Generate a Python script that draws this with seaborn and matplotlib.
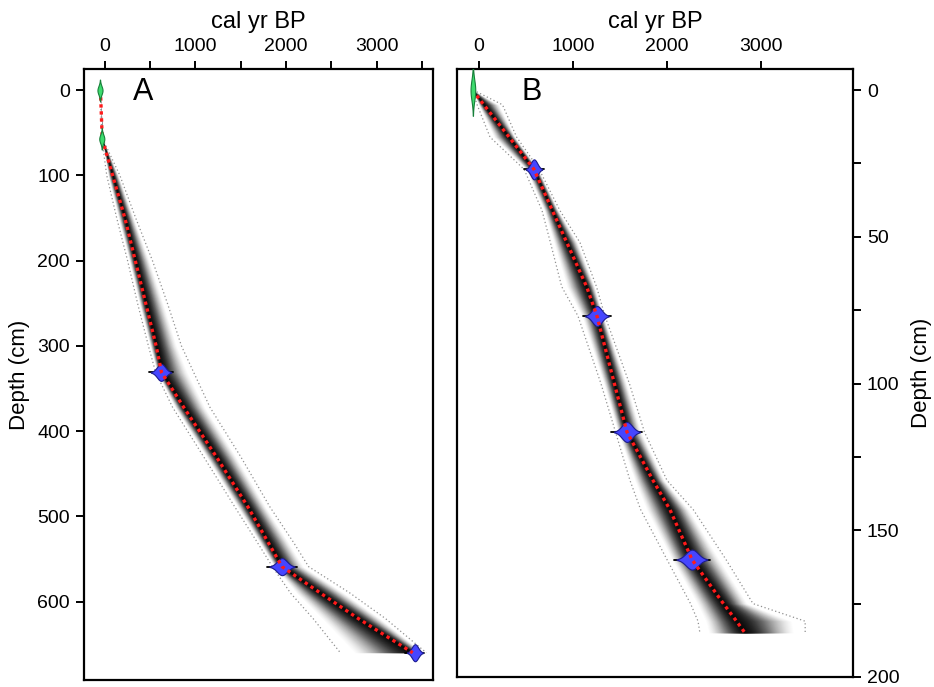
import numpy as np
import pandas as pd
import matplotlib
matplotlib.use("Agg")
import matplotlib.pyplot as plt
import seaborn as sns

# ---------------- data ----------------
# Panel A : age-depth model
depth_A = [0, 57, 100, 150, 200, 250, 300, 331, 372, 430, 489, 530, 559, 590, 620, 660]
mean_A  = [-50, -30, 85, 220, 335, 450, 565, 625, 870, 1230, 1580, 1800, 1956, 2380, 2800, 3400]
lo_A    = [-50, -35, 20, 130, 250, 360, 480, 560, 747, 1090, 1435, 1680, 1850, 2050, 2300, 2600]
hi_A    = [-50, -25, 165, 340, 525, 690, 845, 980, 1160, 1500, 1823, 2080, 2250, 2707, 3100, 3550]
date_depth_A = [331, 559, 660]
date_age_A   = [620, 1956, 3425]
date_sd_A    = [45, 55, 35]
surf_depth_A = [0, 57]
surf_age_A   = [-55, -35]

# Panel B : age-depth model
depth_B = [0, 5, 16, 27, 41, 52, 67, 77, 100, 116.5, 133, 143, 160, 175, 181, 185]
mean_B  = [-70, 51, 320, 585, 780, 935, 1145, 1255, 1440, 1574, 1851, 2032, 2266, 2600, 2740, 2830]
lo_B    = [-70, -20, 117, 480, 670, 760, 880, 1053, 1297, 1452, 1606, 1720, 2000, 2250, 2330, 2350]
hi_B    = [-60, 250, 400, 640, 860, 1075, 1250, 1340, 1600, 1760, 2000, 2280, 2628, 2915, 3470, 3470]
date_depth_B = [27, 77, 116.5, 160]
date_age_B   = [585, 1255, 1574, 2266]
date_sd_B    = [35, 50, 55, 65]
surf_depth_B = [0]
surf_age_B   = [-65]

xticks_A = [0, 1000, 2000, 3000]
xticks_B = [0, 1000, 2000, 3000]
yticks_A = [0, 100, 200, 300, 400, 500, 600]
yticks_B = [0, 50, 100, 150, 200]

# ---------------- style ----------------
sns.set_style("ticks")
plt.rcParams['font.family'] = ['Liberation Sans', 'DejaVu Sans']
plt.rcParams['text.color'] = 'black'
plt.rcParams['axes.labelcolor'] = 'black'

fig = plt.figure(figsize=(9.34, 6.87), dpi=100)
axA = fig.add_axes([0.0899, 0.0102, 0.3737, 0.8894])
axB = fig.add_axes([0.4893, 0.0146, 0.4240, 0.8850])

BLUE = '#4646FF'
RED = '#FF1A1A'


def draw_cloud(ax, depth, lo, mean, hi, width=0.8, n=50):
    d = np.asarray(depth, float)
    m = np.asarray(mean, float)
    l = np.asarray(lo, float)
    h = np.asarray(hi, float)
    for f in np.linspace(1.0, 1.0 / n, n):
        a = 0.012 + 0.11 * (1.0 - f) ** 1.5
        ax.fill_betweenx(d, m - f * width * (m - l), m + f * width * (h - m),
                         color='black', alpha=a, lw=0, zorder=1)


def draw_model(ax, depth, lo, mean, hi):
    draw_cloud(ax, depth, lo, mean, hi)
    df = pd.DataFrame({'depth': depth, 'lo': lo, 'mean': mean, 'hi': hi})
    for col in ['lo', 'hi']:
        sns.lineplot(data=df, x=col, y='depth', sort=False, estimator=None, ax=ax,
                     color='#909090', lw=0.9, linestyle=(0, (1, 2)), zorder=2)
    sns.lineplot(data=df, x='mean', y='depth', sort=False, estimator=None, ax=ax,
                 color=RED, lw=2.4, linestyle=(0, (1, 1.1)), zorder=6)


def draw_dates(ax, ddepth, dage, dsd, half_h):
    for d, a, s in zip(ddepth, dage, dsd):
        z = np.linspace(-2.5, 2.5, 80)
        x = a + s * z
        w = half_h * np.exp(-0.5 * z ** 2)
        ax.plot([a - 3.0 * s, a + 3.0 * s], [d, d], color='black', lw=1.3, zorder=4)
        ax.fill_between(x, d - w, d + w, color=BLUE, ec='#1c1c90', lw=0.8, zorder=5)


def draw_surface(ax, sdepth, sage, half_w, sd_depth):
    for d, a in zip(sdepth, sage):
        z = np.linspace(-2.5, 2.5, 60)
        y = d + sd_depth * z
        w = half_w * np.exp(-0.5 * z ** 2)
        ax.fill_betweenx(y, a - w, a + w, color='#3DDC6E', ec='#17803A', lw=0.8, zorder=7)


# Panel A
draw_model(axA, depth_A, lo_A, mean_A, hi_A)
draw_dates(axA, date_depth_A, date_age_A, date_sd_A, 10)
draw_surface(axA, surf_depth_A, surf_age_A, 28, 5)

# Panel B
draw_model(axB, depth_B, lo_B, mean_B, hi_B)
draw_dates(axB, date_depth_B, date_age_B, date_sd_B, 3.4)
draw_surface(axB, surf_depth_B, surf_age_B, 25, 3.5)

# ---------------- axes ----------------
for ax in (axA, axB):
    for sp in ax.spines.values():
        sp.set_visible(True)
        sp.set_linewidth(1.6)
        sp.set_color('black')
    ax.xaxis.tick_top()
    ax.xaxis.set_label_position('top')
    ax.set_xlabel('cal yr BP', fontsize=17, labelpad=7)
    ax.tick_params(axis='both', which='both', direction='out', length=6, width=1.4,
                   labelsize=14, colors='black', pad=4)
    ax.grid(False)

axA.set_xlim(-232, 3624)
axA.set_ylim(692, -25)
axA.set_xticks(xticks_A)
axA.set_xticks([500, 1500, 2500, 3500], minor=True)
axA.set_yticks(yticks_A)
axA.set_ylabel('Depth (cm)', fontsize=16, labelpad=5)
axA.tick_params(axis='y', which='both', left=True, right=False)
axA.text(0.14, 0.962, 'A', transform=axA.transAxes, fontsize=22, va='center', ha='left')

axB.set_xlim(-234, 3979)
axB.set_ylim(200, -7.2)
axB.set_xticks(xticks_B)
axB.set_yticks(yticks_B)
axB.set_yticks([25, 75, 125, 175], minor=True)
axB.yaxis.tick_right()
axB.yaxis.set_label_position('right')
axB.set_ylabel('Depth (cm)', fontsize=16, labelpad=8)
axB.tick_params(axis='y', which='both', left=False, right=True)
axB.text(0.164, 0.962, 'B', transform=axB.transAxes, fontsize=22, va='center', ha='left')

fig.savefig('out.png', dpi=100)
